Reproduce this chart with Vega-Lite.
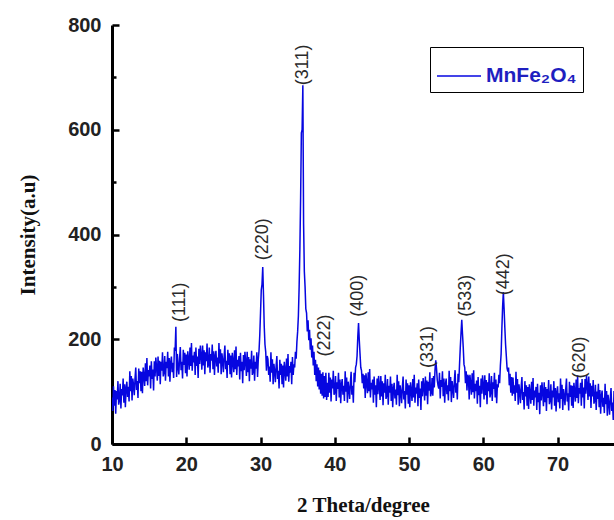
{
"$schema":"https://vega.github.io/schema/vega-lite/v6.json",
"width":502,"height":419,
"autosize":{"type":"none"},
"padding":{"left":112,"top":25,"right":0,"bottom":76},
"background":"white",
"config":{"view":{"stroke":null}},
"datasets":{
"xrd":[
{"theta":10.0,"intensity":89},{"theta":10.1,"intensity":63},{"theta":10.2,"intensity":110},{"theta":10.3,"intensity":73},{"theta":10.4,"intensity":103},{"theta":10.5,"intensity":58},{"theta":10.6,"intensity":101},{"theta":10.7,"intensity":85},{"theta":10.8,"intensity":120},{"theta":10.9,"intensity":75},
{"theta":11.0,"intensity":83},{"theta":11.1,"intensity":115},{"theta":11.2,"intensity":68},{"theta":11.3,"intensity":105},{"theta":11.4,"intensity":93},{"theta":11.5,"intensity":125},{"theta":11.6,"intensity":79},{"theta":11.7,"intensity":114},{"theta":11.8,"intensity":70},{"theta":11.9,"intensity":107},
{"theta":12.0,"intensity":119},{"theta":12.1,"intensity":90},{"theta":12.2,"intensity":109},{"theta":12.3,"intensity":81},{"theta":12.4,"intensity":139},{"theta":12.5,"intensity":101},{"theta":12.6,"intensity":130},{"theta":12.7,"intensity":83},{"theta":12.8,"intensity":125},{"theta":12.9,"intensity":113},
{"theta":13.0,"intensity":93},{"theta":13.1,"intensity":125},{"theta":13.2,"intensity":146},{"theta":13.3,"intensity":103},{"theta":13.4,"intensity":120},{"theta":13.5,"intensity":88},{"theta":13.6,"intensity":144},{"theta":13.7,"intensity":116},{"theta":13.8,"intensity":139},{"theta":13.9,"intensity":101},
{"theta":14.0,"intensity":138},{"theta":14.1,"intensity":97},{"theta":14.2,"intensity":146},{"theta":14.3,"intensity":130},{"theta":14.4,"intensity":111},{"theta":14.5,"intensity":154},{"theta":14.6,"intensity":120},{"theta":14.7,"intensity":164},{"theta":14.8,"intensity":112},{"theta":14.9,"intensity":141},
{"theta":15.0,"intensity":129},{"theta":15.1,"intensity":150},{"theta":15.2,"intensity":106},{"theta":15.3,"intensity":158},{"theta":15.4,"intensity":124},{"theta":15.5,"intensity":142},{"theta":15.6,"intensity":102},{"theta":15.7,"intensity":158},{"theta":15.8,"intensity":129},{"theta":15.9,"intensity":165},
{"theta":16.0,"intensity":147},{"theta":16.1,"intensity":121},{"theta":16.2,"intensity":167},{"theta":16.3,"intensity":130},{"theta":16.4,"intensity":159},{"theta":16.5,"intensity":114},{"theta":16.6,"intensity":157},{"theta":16.7,"intensity":140},{"theta":16.8,"intensity":175},{"theta":16.9,"intensity":129},
{"theta":17.0,"intensity":137},{"theta":17.1,"intensity":168},{"theta":17.2,"intensity":121},{"theta":17.3,"intensity":157},{"theta":17.4,"intensity":145},{"theta":17.5,"intensity":176},{"theta":17.6,"intensity":129},{"theta":17.7,"intensity":164},{"theta":17.8,"intensity":119},{"theta":17.9,"intensity":156},
{"theta":18.0,"intensity":167},{"theta":18.1,"intensity":137},{"theta":18.2,"intensity":155},{"theta":18.3,"intensity":126},{"theta":18.4,"intensity":184},{"theta":18.5,"intensity":178},{"theta":18.6,"intensity":224},{"theta":18.7,"intensity":128},{"theta":18.8,"intensity":172},{"theta":18.9,"intensity":146},
{"theta":19.0,"intensity":133},{"theta":19.1,"intensity":164},{"theta":19.2,"intensity":185},{"theta":19.3,"intensity":141},{"theta":19.4,"intensity":157},{"theta":19.5,"intensity":125},{"theta":19.6,"intensity":180},{"theta":19.7,"intensity":151},{"theta":19.8,"intensity":174},{"theta":19.9,"intensity":135},
{"theta":20.0,"intensity":171},{"theta":20.1,"intensity":129},{"theta":20.2,"intensity":177},{"theta":20.3,"intensity":162},{"theta":20.4,"intensity":142},{"theta":20.5,"intensity":184},{"theta":20.6,"intensity":149},{"theta":20.7,"intensity":193},{"theta":20.8,"intensity":140},{"theta":20.9,"intensity":169},
{"theta":21.0,"intensity":156},{"theta":21.1,"intensity":176},{"theta":21.2,"intensity":132},{"theta":21.3,"intensity":184},{"theta":21.4,"intensity":149},{"theta":21.5,"intensity":167},{"theta":21.6,"intensity":126},{"theta":21.7,"intensity":182},{"theta":21.8,"intensity":153},{"theta":21.9,"intensity":188},
{"theta":22.0,"intensity":169},{"theta":22.1,"intensity":142},{"theta":22.2,"intensity":188},{"theta":22.3,"intensity":150},{"theta":22.4,"intensity":179},{"theta":22.5,"intensity":133},{"theta":22.6,"intensity":175},{"theta":22.7,"intensity":158},{"theta":22.8,"intensity":192},{"theta":22.9,"intensity":146},
{"theta":23.0,"intensity":153},{"theta":23.1,"intensity":184},{"theta":23.2,"intensity":136},{"theta":23.3,"intensity":172},{"theta":23.4,"intensity":159},{"theta":23.5,"intensity":190},{"theta":23.6,"intensity":143},{"theta":23.7,"intensity":177},{"theta":23.8,"intensity":132},{"theta":23.9,"intensity":168},
{"theta":24.0,"intensity":178},{"theta":24.1,"intensity":148},{"theta":24.2,"intensity":165},{"theta":24.3,"intensity":136},{"theta":24.4,"intensity":193},{"theta":24.5,"intensity":154},{"theta":24.6,"intensity":181},{"theta":24.7,"intensity":133},{"theta":24.8,"intensity":173},{"theta":24.9,"intensity":160},
{"theta":25.0,"intensity":137},{"theta":25.1,"intensity":168},{"theta":25.2,"intensity":188},{"theta":25.3,"intensity":143},{"theta":25.4,"intensity":159},{"theta":25.5,"intensity":126},{"theta":25.6,"intensity":180},{"theta":25.7,"intensity":151},{"theta":25.8,"intensity":173},{"theta":25.9,"intensity":133},
{"theta":26.0,"intensity":169},{"theta":26.1,"intensity":127},{"theta":26.2,"intensity":174},{"theta":26.3,"intensity":158},{"theta":26.4,"intensity":137},{"theta":26.5,"intensity":179},{"theta":26.6,"intensity":143},{"theta":26.7,"intensity":186},{"theta":26.8,"intensity":132},{"theta":26.9,"intensity":161},
{"theta":27.0,"intensity":148},{"theta":27.1,"intensity":168},{"theta":27.2,"intensity":123},{"theta":27.3,"intensity":174},{"theta":27.4,"intensity":139},{"theta":27.5,"intensity":157},{"theta":27.6,"intensity":116},{"theta":27.7,"intensity":170},{"theta":27.8,"intensity":141},{"theta":27.9,"intensity":176},
{"theta":28.0,"intensity":157},{"theta":28.1,"intensity":130},{"theta":28.2,"intensity":176},{"theta":28.3,"intensity":137},{"theta":28.4,"intensity":166},{"theta":28.5,"intensity":120},{"theta":28.6,"intensity":162},{"theta":28.7,"intensity":144},{"theta":28.8,"intensity":178},{"theta":28.9,"intensity":132},
{"theta":29.0,"intensity":138},{"theta":29.1,"intensity":169},{"theta":29.2,"intensity":121},{"theta":29.3,"intensity":157},{"theta":29.4,"intensity":144},{"theta":29.5,"intensity":175},{"theta":29.6,"intensity":128},{"theta":29.7,"intensity":162},{"theta":29.8,"intensity":178},{"theta":29.9,"intensity":208},
{"theta":30.0,"intensity":250},{"theta":30.1,"intensity":294},{"theta":30.2,"intensity":305},{"theta":30.3,"intensity":338},{"theta":30.4,"intensity":285},{"theta":30.5,"intensity":225},{"theta":30.6,"intensity":190},{"theta":30.7,"intensity":176},{"theta":30.8,"intensity":140},{"theta":30.9,"intensity":168},
{"theta":31.0,"intensity":162},{"theta":31.1,"intensity":132},{"theta":31.2,"intensity":148},{"theta":31.3,"intensity":119},{"theta":31.4,"intensity":175},{"theta":31.5,"intensity":136},{"theta":31.6,"intensity":162},{"theta":31.7,"intensity":114},{"theta":31.8,"intensity":153},{"theta":31.9,"intensity":140},
{"theta":32.0,"intensity":118},{"theta":32.1,"intensity":149},{"theta":32.2,"intensity":168},{"theta":32.3,"intensity":124},{"theta":32.4,"intensity":140},{"theta":32.5,"intensity":106},{"theta":32.6,"intensity":161},{"theta":32.7,"intensity":132},{"theta":32.8,"intensity":153},{"theta":32.9,"intensity":114},
{"theta":33.0,"intensity":150},{"theta":33.1,"intensity":108},{"theta":33.2,"intensity":157},{"theta":33.3,"intensity":141},{"theta":33.4,"intensity":121},{"theta":33.5,"intensity":163},{"theta":33.6,"intensity":129},{"theta":33.7,"intensity":172},{"theta":33.8,"intensity":119},{"theta":33.9,"intensity":149},
{"theta":34.0,"intensity":136},{"theta":34.1,"intensity":157},{"theta":34.2,"intensity":114},{"theta":34.3,"intensity":166},{"theta":34.4,"intensity":132},{"theta":34.5,"intensity":152},{"theta":34.6,"intensity":146},{"theta":34.7,"intensity":176},{"theta":34.8,"intensity":163},{"theta":34.9,"intensity":195},
{"theta":35.0,"intensity":215},{"theta":35.1,"intensity":245},{"theta":35.2,"intensity":300},{"theta":35.3,"intensity":372},{"theta":35.4,"intensity":470},{"theta":35.5,"intensity":594},{"theta":35.6,"intensity":600},{"theta":35.7,"intensity":685},{"theta":35.8,"intensity":420},{"theta":35.9,"intensity":330},
{"theta":36.0,"intensity":300},{"theta":36.1,"intensity":258},{"theta":36.2,"intensity":250},{"theta":36.3,"intensity":215},{"theta":36.4,"intensity":236},{"theta":36.5,"intensity":198},{"theta":36.6,"intensity":218},{"theta":36.7,"intensity":180},{"theta":36.8,"intensity":202},{"theta":36.9,"intensity":165},
{"theta":37.0,"intensity":188},{"theta":37.1,"intensity":150},{"theta":37.2,"intensity":176},{"theta":37.3,"intensity":132},{"theta":37.4,"intensity":161},{"theta":37.5,"intensity":120},{"theta":37.6,"intensity":152},{"theta":37.7,"intensity":110},{"theta":37.8,"intensity":146},{"theta":37.9,"intensity":104},
{"theta":38.0,"intensity":141},{"theta":38.1,"intensity":96},{"theta":38.2,"intensity":134},{"theta":38.3,"intensity":92},{"theta":38.4,"intensity":137},{"theta":38.5,"intensity":87},{"theta":38.6,"intensity":130},{"theta":38.7,"intensity":90},{"theta":38.8,"intensity":136},{"theta":38.9,"intensity":84},
{"theta":39.0,"intensity":117},{"theta":39.1,"intensity":90},{"theta":39.2,"intensity":136},{"theta":39.3,"intensity":98},{"theta":39.4,"intensity":127},{"theta":39.5,"intensity":81},{"theta":39.6,"intensity":123},{"theta":39.7,"intensity":106},{"theta":39.8,"intensity":140},{"theta":39.9,"intensity":94},
{"theta":40.0,"intensity":99},{"theta":40.1,"intensity":130},{"theta":40.2,"intensity":82},{"theta":40.3,"intensity":118},{"theta":40.4,"intensity":105},{"theta":40.5,"intensity":136},{"theta":40.6,"intensity":89},{"theta":40.7,"intensity":123},{"theta":40.8,"intensity":78},{"theta":40.9,"intensity":114},
{"theta":41.0,"intensity":124},{"theta":41.1,"intensity":94},{"theta":41.2,"intensity":111},{"theta":41.3,"intensity":82},{"theta":41.4,"intensity":139},{"theta":41.5,"intensity":100},{"theta":41.6,"intensity":127},{"theta":41.7,"intensity":79},{"theta":41.8,"intensity":119},{"theta":41.9,"intensity":106},
{"theta":42.0,"intensity":86},{"theta":42.1,"intensity":117},{"theta":42.2,"intensity":138},{"theta":42.3,"intensity":94},{"theta":42.4,"intensity":111},{"theta":42.5,"intensity":79},{"theta":42.6,"intensity":136},{"theta":42.7,"intensity":118},{"theta":42.8,"intensity":146},{"theta":42.9,"intensity":152},
{"theta":43.0,"intensity":168},{"theta":43.1,"intensity":205},{"theta":43.2,"intensity":231},{"theta":43.3,"intensity":198},{"theta":43.4,"intensity":172},{"theta":43.5,"intensity":146},{"theta":43.6,"intensity":140},{"theta":43.7,"intensity":116},{"theta":43.8,"intensity":134},{"theta":43.9,"intensity":106},
{"theta":44.0,"intensity":131},{"theta":44.1,"intensity":88},{"theta":44.2,"intensity":135},{"theta":44.3,"intensity":118},{"theta":44.4,"intensity":97},{"theta":44.5,"intensity":137},{"theta":44.6,"intensity":101},{"theta":44.7,"intensity":143},{"theta":44.8,"intensity":89},{"theta":44.9,"intensity":117},
{"theta":45.0,"intensity":104},{"theta":45.1,"intensity":123},{"theta":45.2,"intensity":79},{"theta":45.3,"intensity":129},{"theta":45.4,"intensity":94},{"theta":45.5,"intensity":112},{"theta":45.6,"intensity":70},{"theta":45.7,"intensity":125},{"theta":45.8,"intensity":95},{"theta":45.9,"intensity":130},
{"theta":46.0,"intensity":111},{"theta":46.1,"intensity":84},{"theta":46.2,"intensity":130},{"theta":46.3,"intensity":91},{"theta":46.4,"intensity":120},{"theta":46.5,"intensity":74},{"theta":46.6,"intensity":116},{"theta":46.7,"intensity":98},{"theta":46.8,"intensity":132},{"theta":46.9,"intensity":86},
{"theta":47.0,"intensity":93},{"theta":47.1,"intensity":124},{"theta":47.2,"intensity":75},{"theta":47.3,"intensity":111},{"theta":47.4,"intensity":98},{"theta":47.5,"intensity":129},{"theta":47.6,"intensity":82},{"theta":47.7,"intensity":115},{"theta":47.8,"intensity":70},{"theta":47.9,"intensity":106},
{"theta":48.0,"intensity":117},{"theta":48.1,"intensity":87},{"theta":48.2,"intensity":104},{"theta":48.3,"intensity":75},{"theta":48.4,"intensity":132},{"theta":48.5,"intensity":93},{"theta":48.6,"intensity":120},{"theta":48.7,"intensity":72},{"theta":48.8,"intensity":112},{"theta":48.9,"intensity":99},
{"theta":49.0,"intensity":78},{"theta":49.1,"intensity":109},{"theta":49.2,"intensity":129},{"theta":49.3,"intensity":85},{"theta":49.4,"intensity":101},{"theta":49.5,"intensity":68},{"theta":49.6,"intensity":123},{"theta":49.7,"intensity":94},{"theta":49.8,"intensity":116},{"theta":49.9,"intensity":77},
{"theta":50.0,"intensity":112},{"theta":50.1,"intensity":70},{"theta":50.2,"intensity":118},{"theta":50.3,"intensity":102},{"theta":50.4,"intensity":82},{"theta":50.5,"intensity":124},{"theta":50.6,"intensity":89},{"theta":50.7,"intensity":132},{"theta":50.8,"intensity":79},{"theta":50.9,"intensity":108},
{"theta":51.0,"intensity":96},{"theta":51.1,"intensity":116},{"theta":51.2,"intensity":72},{"theta":51.3,"intensity":123},{"theta":51.4,"intensity":88},{"theta":51.5,"intensity":106},{"theta":51.6,"intensity":65},{"theta":51.7,"intensity":120},{"theta":51.8,"intensity":91},{"theta":51.9,"intensity":126},
{"theta":52.0,"intensity":109},{"theta":52.1,"intensity":83},{"theta":52.2,"intensity":129},{"theta":52.3,"intensity":92},{"theta":52.4,"intensity":121},{"theta":52.5,"intensity":76},{"theta":52.6,"intensity":119},{"theta":52.7,"intensity":102},{"theta":52.8,"intensity":137},{"theta":52.9,"intensity":91},
{"theta":53.0,"intensity":98},{"theta":53.1,"intensity":126},{"theta":53.2,"intensity":92},{"theta":53.3,"intensity":130},{"theta":53.4,"intensity":108},{"theta":53.5,"intensity":142},{"theta":53.6,"intensity":160},{"theta":53.7,"intensity":144},{"theta":53.8,"intensity":122},{"theta":53.9,"intensity":112},
{"theta":54.0,"intensity":106},{"theta":54.1,"intensity":136},{"theta":54.2,"intensity":87},{"theta":54.3,"intensity":122},{"theta":54.4,"intensity":109},{"theta":54.5,"intensity":139},{"theta":54.6,"intensity":91},{"theta":54.7,"intensity":125},{"theta":54.8,"intensity":79},{"theta":54.9,"intensity":114},
{"theta":55.0,"intensity":125},{"theta":55.1,"intensity":95},{"theta":55.2,"intensity":112},{"theta":55.3,"intensity":83},{"theta":55.4,"intensity":140},{"theta":55.5,"intensity":101},{"theta":55.6,"intensity":128},{"theta":55.7,"intensity":80},{"theta":55.8,"intensity":120},{"theta":55.9,"intensity":107},
{"theta":56.0,"intensity":88},{"theta":56.1,"intensity":120},{"theta":56.2,"intensity":141},{"theta":56.3,"intensity":98},{"theta":56.4,"intensity":116},{"theta":56.5,"intensity":85},{"theta":56.6,"intensity":134},{"theta":56.7,"intensity":118},{"theta":56.8,"intensity":152},{"theta":56.9,"intensity":184},
{"theta":57.0,"intensity":212},{"theta":57.1,"intensity":237},{"theta":57.2,"intensity":210},{"theta":57.3,"intensity":184},{"theta":57.4,"intensity":152},{"theta":57.5,"intensity":146},{"theta":57.6,"intensity":116},{"theta":57.7,"intensity":139},{"theta":57.8,"intensity":102},{"theta":57.9,"intensity":132},
{"theta":58.0,"intensity":128},{"theta":58.1,"intensity":85},{"theta":58.2,"intensity":132},{"theta":58.3,"intensity":115},{"theta":58.4,"intensity":94},{"theta":58.5,"intensity":135},{"theta":58.6,"intensity":99},{"theta":58.7,"intensity":141},{"theta":58.8,"intensity":87},{"theta":58.9,"intensity":115},
{"theta":59.0,"intensity":101},{"theta":59.1,"intensity":121},{"theta":59.2,"intensity":77},{"theta":59.3,"intensity":128},{"theta":59.4,"intensity":93},{"theta":59.5,"intensity":111},{"theta":59.6,"intensity":70},{"theta":59.7,"intensity":125},{"theta":59.8,"intensity":96},{"theta":59.9,"intensity":131},
{"theta":60.0,"intensity":112},{"theta":60.1,"intensity":85},{"theta":60.2,"intensity":131},{"theta":60.3,"intensity":93},{"theta":60.4,"intensity":122},{"theta":60.5,"intensity":76},{"theta":60.6,"intensity":118},{"theta":60.7,"intensity":101},{"theta":60.8,"intensity":135},{"theta":60.9,"intensity":89},
{"theta":61.0,"intensity":99},{"theta":61.1,"intensity":130},{"theta":61.2,"intensity":82},{"theta":61.3,"intensity":118},{"theta":61.4,"intensity":105},{"theta":61.5,"intensity":136},{"theta":61.6,"intensity":89},{"theta":61.7,"intensity":123},{"theta":61.8,"intensity":78},{"theta":61.9,"intensity":114},
{"theta":62.0,"intensity":108},{"theta":62.1,"intensity":132},{"theta":62.2,"intensity":116},{"theta":62.3,"intensity":150},{"theta":62.4,"intensity":172},{"theta":62.5,"intensity":220},{"theta":62.6,"intensity":262},{"theta":62.7,"intensity":290},{"theta":62.8,"intensity":258},{"theta":62.9,"intensity":222},
{"theta":63.0,"intensity":190},{"theta":63.1,"intensity":168},{"theta":63.2,"intensity":145},{"theta":63.3,"intensity":138},{"theta":63.4,"intensity":146},{"theta":63.5,"intensity":112},{"theta":63.6,"intensity":134},{"theta":63.7,"intensity":98},{"theta":63.8,"intensity":128},{"theta":63.9,"intensity":92},
{"theta":64.0,"intensity":127},{"theta":64.1,"intensity":96},{"theta":64.2,"intensity":112},{"theta":64.3,"intensity":82},{"theta":64.4,"intensity":138},{"theta":64.5,"intensity":98},{"theta":64.6,"intensity":124},{"theta":64.7,"intensity":75},{"theta":64.8,"intensity":114},{"theta":64.9,"intensity":100},
{"theta":65.0,"intensity":78},{"theta":65.1,"intensity":109},{"theta":65.2,"intensity":128},{"theta":65.3,"intensity":84},{"theta":65.4,"intensity":99},{"theta":65.5,"intensity":66},{"theta":65.6,"intensity":120},{"theta":65.7,"intensity":91},{"theta":65.8,"intensity":112},{"theta":65.9,"intensity":73},
{"theta":66.0,"intensity":109},{"theta":66.1,"intensity":67},{"theta":66.2,"intensity":114},{"theta":66.3,"intensity":98},{"theta":66.4,"intensity":77},{"theta":66.5,"intensity":119},{"theta":66.6,"intensity":84},{"theta":66.7,"intensity":126},{"theta":66.8,"intensity":73},{"theta":66.9,"intensity":102},
{"theta":67.0,"intensity":89},{"theta":67.1,"intensity":109},{"theta":67.2,"intensity":65},{"theta":67.3,"intensity":115},{"theta":67.4,"intensity":80},{"theta":67.5,"intensity":98},{"theta":67.6,"intensity":57},{"theta":67.7,"intensity":112},{"theta":67.8,"intensity":83},{"theta":67.9,"intensity":118},
{"theta":68.0,"intensity":99},{"theta":68.1,"intensity":72},{"theta":68.2,"intensity":118},{"theta":68.3,"intensity":80},{"theta":68.4,"intensity":109},{"theta":68.5,"intensity":63},{"theta":68.6,"intensity":105},{"theta":68.7,"intensity":88},{"theta":68.8,"intensity":122},{"theta":68.9,"intensity":76},
{"theta":69.0,"intensity":83},{"theta":69.1,"intensity":114},{"theta":69.2,"intensity":66},{"theta":69.3,"intensity":102},{"theta":69.4,"intensity":89},{"theta":69.5,"intensity":120},{"theta":69.6,"intensity":73},{"theta":69.7,"intensity":107},{"theta":69.8,"intensity":62},{"theta":69.9,"intensity":98},
{"theta":70.0,"intensity":110},{"theta":70.1,"intensity":80},{"theta":70.2,"intensity":97},{"theta":70.3,"intensity":68},{"theta":70.4,"intensity":125},{"theta":70.5,"intensity":86},{"theta":70.6,"intensity":113},{"theta":70.7,"intensity":65},{"theta":70.8,"intensity":105},{"theta":70.9,"intensity":92},
{"theta":71.0,"intensity":74},{"theta":71.1,"intensity":105},{"theta":71.2,"intensity":125},{"theta":71.3,"intensity":81},{"theta":71.4,"intensity":97},{"theta":71.5,"intensity":64},{"theta":71.6,"intensity":119},{"theta":71.7,"intensity":90},{"theta":71.8,"intensity":112},{"theta":71.9,"intensity":73},
{"theta":72.0,"intensity":111},{"theta":72.1,"intensity":69},{"theta":72.2,"intensity":117},{"theta":72.3,"intensity":101},{"theta":72.4,"intensity":81},{"theta":72.5,"intensity":123},{"theta":72.6,"intensity":88},{"theta":72.7,"intensity":131},{"theta":72.8,"intensity":78},{"theta":72.9,"intensity":107},
{"theta":73.0,"intensity":96},{"theta":73.1,"intensity":117},{"theta":73.2,"intensity":73},{"theta":73.3,"intensity":124},{"theta":73.4,"intensity":89},{"theta":73.5,"intensity":108},{"theta":73.6,"intensity":68},{"theta":73.7,"intensity":124},{"theta":73.8,"intensity":96},{"theta":73.9,"intensity":131},
{"theta":74.0,"intensity":112},{"theta":74.1,"intensity":84},{"theta":74.2,"intensity":129},{"theta":74.3,"intensity":91},{"theta":74.4,"intensity":116},{"theta":74.5,"intensity":69},{"theta":74.6,"intensity":111},{"theta":74.7,"intensity":91},{"theta":74.8,"intensity":122},{"theta":74.9,"intensity":77},
{"theta":75.0,"intensity":83},{"theta":75.1,"intensity":113},{"theta":75.2,"intensity":65},{"theta":75.3,"intensity":100},{"theta":75.4,"intensity":86},{"theta":75.5,"intensity":115},{"theta":75.6,"intensity":70},{"theta":75.7,"intensity":103},{"theta":75.8,"intensity":58},{"theta":75.9,"intensity":92},
{"theta":76.0,"intensity":102},{"theta":76.1,"intensity":71},{"theta":76.2,"intensity":88},{"theta":76.3,"intensity":59},{"theta":76.4,"intensity":115},{"theta":76.5,"intensity":76},{"theta":76.6,"intensity":101},{"theta":76.7,"intensity":54},{"theta":76.8,"intensity":94},{"theta":76.9,"intensity":79},
{"theta":77.0,"intensity":56},{"theta":77.1,"intensity":87},{"theta":77.2,"intensity":107},{"theta":77.3,"intensity":63},{"theta":77.4,"intensity":79},{"theta":77.5,"intensity":46},{"theta":77.6,"intensity":101}
],
"peaks":[
{"label":"(111)","theta":19.15,"intensity":233},
{"label":"(220)","theta":30.3,"intensity":351},
{"label":"(311)","theta":35.7,"intensity":685},
{"label":"(222)","theta":38.67,"intensity":167},
{"label":"(400)","theta":43.15,"intensity":243},
{"label":"(331)","theta":52.5,"intensity":145},
{"label":"(533)","theta":57.7,"intensity":243},
{"label":"(442)","theta":62.8,"intensity":284},
{"label":"(620)","theta":73.0,"intensity":125}
]
},
"layer":[
{
"data":{"name":"xrd"},
"mark":{"type":"line","strokeWidth":1.5,"clip":true},
"encoding":{
"x":{"field":"theta","type":"quantitative","scale":{"domain":[10,77.6],"nice":false,"zero":false},
"axis":{"title":"2 Theta/degree","values":[10,15,20,25,30,35,40,45,50,55,60,65,70,75],
"labelExpr":"datum.value % 10 === 0 ? datum.label : ''","labelFlush":false,"labelOverlap":false,
"grid":false,"domainColor":"black","domainWidth":3,"tickColor":"black","tickWidth":2.5,
"tickSize":{"condition":{"test":"datum.value % 10 === 0","value":-7},"value":-4},
"labelPadding":17,"labelFont":"Liberation Sans","labelFontWeight":"bold","labelFontSize":20,"labelColor":"#222",
"titleFont":"Liberation Serif","titleFontWeight":"bold","titleFontSize":21,"titleColor":"#111","titlePadding":20}},
"y":{"field":"intensity","type":"quantitative","scale":{"domain":[0,800],"nice":false},
"axis":{"title":"Intensity(a.u)","values":[0,100,200,300,400,500,600,700,800],
"labelExpr":"datum.value % 200 === 0 ? datum.label : ''","labelFlush":false,"labelOverlap":false,
"grid":false,"domainColor":"black","domainWidth":3,"tickColor":"black","tickWidth":2.5,
"tickSize":{"condition":{"test":"datum.value % 200 === 0","value":-7},"value":-4},
"labelPadding":18,"labelFont":"Liberation Sans","labelFontWeight":"bold","labelFontSize":20,"labelColor":"#222",
"titleFont":"Liberation Serif","titleFontWeight":"bold","titleFontSize":21,"titleColor":"#111","titlePadding":29}},
"color":{"datum":"MnFe₂O₄","type":"nominal","scale":{"range":["#0606e0"]},
"legend":{"title":null,"orient":"none","legendX":318,"legendY":22,"strokeColor":"black","padding":6,
"symbolType":"stroke","symbolSize":1936,"symbolStrokeWidth":1.5,"labelFont":"Liberation Sans","labelFontWeight":"bold","labelFontSize":21,"labelColor":"#1f1fc0"}}
}
},
{
"mark":{"type":"rule","color":"black","strokeWidth":3},
"encoding":{"y":{"datum":800}}
},
{
"data":{"name":"peaks"},
"mark":{"type":"text","angle":270,"align":"left","baseline":"middle","font":"Liberation Sans","fontSize":18,"color":"#2a2a2a"},
"encoding":{
"x":{"field":"theta","type":"quantitative"},
"y":{"field":"intensity","type":"quantitative"},
"text":{"field":"label"}
}
}
]
}
